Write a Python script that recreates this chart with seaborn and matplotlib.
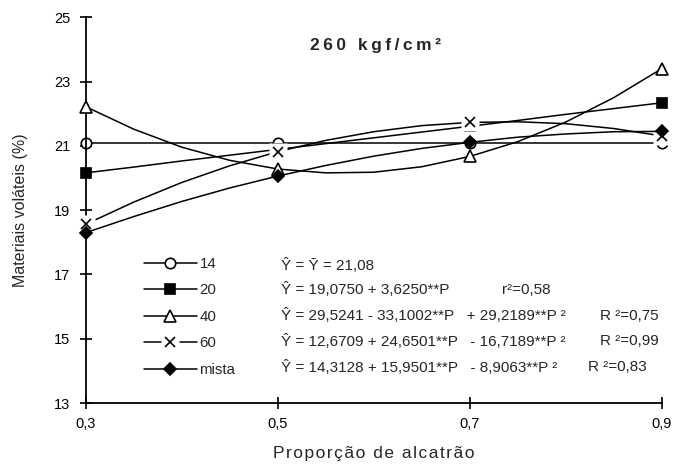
import matplotlib
matplotlib.use("Agg")
import matplotlib.pyplot as plt
from matplotlib.lines import Line2D
from matplotlib.legend_handler import HandlerTuple
import pandas as pd
import seaborn as sns

# Tar proportion at which each fitted curve is traced
proporcao = [0.30, 0.35, 0.40, 0.45, 0.50, 0.55, 0.60, 0.65, 0.70, 0.75, 0.80, 0.85, 0.90]

# Fitted volatile-matter curves (%) for each particle size / mix
curva_14 = [21.08, 21.08, 21.08, 21.08, 21.08, 21.08, 21.08, 21.08, 21.08, 21.08, 21.08, 21.08, 21.08]
curva_20 = [20.16, 20.34, 20.53, 20.71, 20.89, 21.07, 21.25, 21.43, 21.61, 21.79, 21.98, 22.16, 22.34]
curva_40 = [22.22, 21.52, 20.96, 20.55, 20.28, 20.16, 20.18, 20.35, 20.67, 21.13, 21.74, 22.50, 23.40]
curva_60 = [18.56, 19.25, 19.86, 20.38, 20.82, 21.17, 21.44, 21.63, 21.73, 21.75, 21.69, 21.54, 21.31]
curva_mista = [18.30, 18.80, 19.27, 19.69, 20.06, 20.39, 20.68, 20.92, 21.11, 21.27, 21.37, 21.44, 21.45]

series = ["14", "20", "40", "60", "mista"]
curvas = [curva_14, curva_20, curva_40, curva_60, curva_mista]

# Proportions that carry a marker
pontos = [0.3, 0.5, 0.7, 0.9]

equacoes = [
    "Ŷ = Ȳ = 21,08",
    "Ŷ = 19,0750 + 3,6250**P",
    "Ŷ = 29,5241 - 33,1002**P   + 29,2189**P ²",
    "Ŷ = 12,6709 + 24,6501**P   - 16,7189**P ²",
    "Ŷ = 14,3128 + 15,9501**P   - 8,9063**P ²",
]
ajustes = ["", "r²=0,58", "R ²=0,75", "R ²=0,99", "R ²=0,83"]

x_ticks = [0.3, 0.5, 0.7, 0.9]
x_ticklabels = ["0,3", "0,5", "0,7", "0,9"]
y_ticks = [13, 15, 17, 19, 21, 23, 25]

sns.set_style("white")
plt.rcParams["font.family"] = ["Liberation Sans", "DejaVu Sans"]


def espacado(txt, sep="\u200a"):
    """Open up the letter spacing of a label."""
    return sep.join(txt)


df = pd.DataFrame(
    [(s, p, v) for s, c in zip(series, curvas) for p, v in zip(proporcao, c)],
    columns=["serie", "P", "Y"],
)

estilos = {
    "14": dict(marker="o", ms=7.5, mfc="white"),
    "20": dict(marker="s", ms=7, mfc="black"),
    "40": dict(marker="^", ms=8, mfc="white"),
    "60": dict(marker="x", ms=7.5, mfc="none"),
    "mista": dict(marker="D", ms=6.5, mfc="black"),
}

fig = plt.figure(figsize=(6.86, 4.67), dpi=100)
W, H = 686, 467
ax = fig.add_axes([85.7 / W, 1 - 403 / H, (661.7 - 85.7) / W, (403 - 17.3) / H])

handles = []
for i, s in enumerate(series):
    sub = df[df["serie"] == s]
    z = 2 + i
    sns.lineplot(data=sub, x="P", y="Y", color="black", lw=1.1, ax=ax,
                 zorder=z, clip_on=False, legend=False)
    marc = sub[sub["P"].round(2).isin(pontos)]
    st = estilos[s]
    hl = [Line2D([], [], color="black", lw=1.1)]
    if s == "60":
        # white backing square behind each cross
        ax.plot(marc["P"], marc["Y"], ls="none", marker="s", ms=12.5, mfc="white",
                mec="none", zorder=z + 0.3, clip_on=False)
        hl.append(Line2D([], [], ls="none", marker="s", ms=12.5, mfc="white", mec="none"))
    ax.plot(marc["P"], marc["Y"], ls="none", color="black", mec="black", mew=1.2,
            zorder=z + 0.5, clip_on=False, **st)
    hl.append(Line2D([], [], ls="none", color="black", mec="black", mew=1.2, **st))
    handles.append(tuple(hl))

ax.set_xlim(0.3, 0.9)
ax.set_ylim(13, 25)
ax.set_xticks(x_ticks)
ax.set_xticklabels(x_ticklabels)
ax.set_yticks(y_ticks)
ax.set_yticklabels([str(v) for v in y_ticks])
for side in ["top", "right"]:
    ax.spines[side].set_visible(False)
for side in ["left", "bottom"]:
    ax.spines[side].set_color("black")
    ax.spines[side].set_linewidth(1.3)
ax.tick_params(axis="both", which="major", bottom=True, left=True,
               direction="inout", length=8, width=1.2,
               color="black", labelsize=10.5, labelcolor="black")
ax.tick_params(axis="y", pad=7)
ax.tick_params(axis="x", pad=6)
ax.set_xlabel(espacado("Proporção de alcatrão"), fontsize=12.5, labelpad=11)
ax.set_ylabel("Materiais voláteis (%)", fontsize=11.5, labelpad=19)

ax.text(0.602, 24.12, espacado("260 kgf/cm²", "\u2009"), ha="center", va="center",
        fontsize=12.5, fontweight="bold")

fig.legend(handles, series, loc="upper left",
           bbox_to_anchor=(144 / W, 1 - 257 / H), frameon=False,
           borderpad=0, borderaxespad=0, fontsize=10.8,
           handlelength=3.5, handletextpad=0.2, labelspacing=0.83,
           handler_map={tuple: HandlerTuple(ndivide=1)})

linhas_y = [265, 290, 316, 341, 367]
ajuste_x = [0, 502, 600, 600, 588]
for eq, aj, y, xa in zip(equacoes, ajustes, linhas_y, ajuste_x):
    fig.text(281 / W, 1 - y / H, eq, ha="left", va="center", fontsize=11)
    if aj:
        fig.text(xa / W, 1 - y / H, aj, ha="left", va="center", fontsize=11)

fig.savefig("out.png", dpi=100)
